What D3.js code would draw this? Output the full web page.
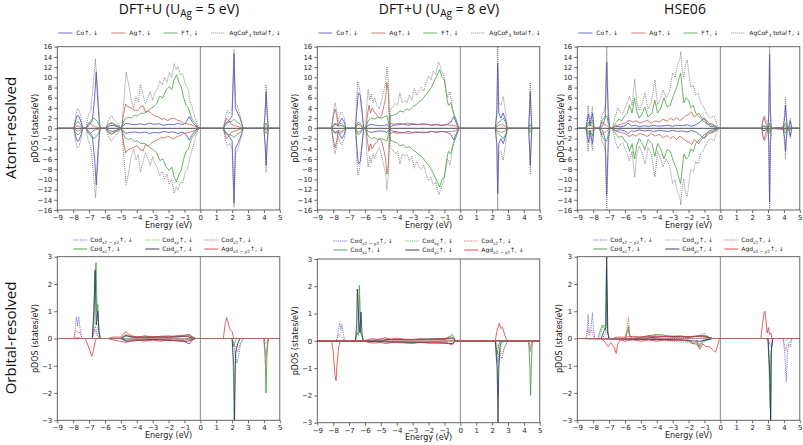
<!DOCTYPE html>
<html><head><meta charset="utf-8">
<script src="https://cdn.jsdelivr.net/npm/d3@7"></script>
<style>body{margin:0;background:#fff}svg{display:block}</style>
</head><body>
<svg id="c" width="803" height="445"></svg>
<script>
// ---------- DATA ----------
const energyTicks = [-9,-8,-7,-6,-5,-4,-3,-2,-1,0,1,2,3,4,5];
const atomTicks = [-16,-14,-12,-10,-8,-6,-4,-2,0,2,4,6,8,10,12,14,16];
const orbTicks = [-3,-2,-1,0,1,2,3];
const titles = ["DFT+U (U|Ag| = 5 eV)", "DFT+U (U|Ag| = 8 eV)", "HSE06"];
const rowLabels = ["Atom-resolved", "Orbital-resolved"];
const atomSeries = ["Co", "Ag", "F", "total"];

// Atom-resolved, DFT+U U=5 (spin-up; spin-down mirrors)
const co5 = [[-9,0],[-7.95,0],[-7.85,1.5],[-7.75,2.5],[-7.65,2.4],[-7.5,1.2],[-7.4,0],[-7.2,0],[-7.0,0.6],[-6.8,1.5],[-6.65,6],[-6.55,11.1],[-6.45,5],[-6.35,1],[-6.3,0],[-5.95,0],[-5.7,0.5],[-5.5,0.6],[-5.2,0.3],[-5.0,0],[-4.9,0.3],[-4.7,1.0],[-4.4,0.8],[-4.1,0.7],[-3.8,0.9],[-3.5,0.7],[-3.2,1.0],[-2.9,0.8],[-2.6,0.9],[-2.3,0.6],[-2.0,0.8],[-1.7,0.7],[-1.4,1.0],[-1.1,0.7],[-0.9,1.2],[-0.7,2.3],[-0.5,1.2],[-0.3,0.5],[-0.1,0],[1.45,0],[1.6,1.0],[1.8,1.5],[2.0,2.5],[2.12,14.6],[2.2,4],[2.35,3],[2.5,2],[2.7,0],[4.0,0],[4.08,3],[4.14,7.2],[4.2,3],[4.28,0],[5,0]];
const ag5 = [[-9,0],[-7.95,0],[-7.8,0.4],[-7.7,0.5],[-7.55,0.3],[-7.4,0],[-7.2,0],[-7.05,0.8],[-6.9,1.0],[-6.75,0.5],[-6.6,0.3],[-6.45,0.2],[-6.3,0],[-5.95,0],[-5.75,0.8],[-5.55,1.0],[-5.3,0.5],[-5.05,0],[-4.95,0],[-4.85,2.5],[-4.7,4.8],[-4.55,4.2],[-4.35,4.0],[-4.15,3.6],[-3.95,3.4],[-3.75,4.3],[-3.6,4.4],[-3.45,3.2],[-3.25,3.4],[-3.05,2.8],[-2.85,2.4],[-2.65,2.2],[-2.45,1.8],[-2.25,1.9],[-2.05,1.5],[-1.85,1.9],[-1.65,2.0],[-1.45,1.6],[-1.25,1.4],[-1.05,1.0],[-0.85,0.9],[-0.6,0.7],[-0.35,0.4],[-0.1,0],[1.45,0],[1.55,1.2],[1.65,2.0],[1.8,1.5],[1.95,0.8],[2.12,0.6],[2.3,0.4],[2.5,0.2],[2.7,0],[4.0,0],[4.14,0.3],[4.28,0],[5,0]];
const f5 = [[-9,0],[-7.95,0],[-7.85,0.8],[-7.7,1.3],[-7.55,0.8],[-7.4,0],[-7.2,0],[-7.05,1.0],[-6.9,1.5],[-6.75,2.0],[-6.6,1.8],[-6.45,1.2],[-6.3,0],[-5.95,0],[-5.8,0.8],[-5.6,1.2],[-5.4,0.8],[-5.1,0.4],[-5.0,0],[-4.92,0.4],[-4.75,1.8],[-4.55,2.2],[-4.35,2.0],[-4.15,2.6],[-3.95,2.4],[-3.75,3.0],[-3.55,2.9],[-3.35,3.3],[-3.15,3.8],[-2.95,4.2],[-2.75,4.8],[-2.55,6.3],[-2.35,6.0],[-2.15,7.6],[-1.95,8.2],[-1.8,7.6],[-1.65,9.5],[-1.5,10.5],[-1.35,9.0],[-1.2,8.2],[-1.05,6.0],[-0.9,4.5],[-0.75,4.0],[-0.55,2.0],[-0.3,0.9],[-0.1,0],[1.45,0],[1.6,0.8],[1.8,1.2],[2.0,1.4],[2.12,1.8],[2.3,1.2],[2.5,0.8],[2.7,0],[4.0,0],[4.08,0.6],[4.14,1.0],[4.2,0.6],[4.28,0],[5,0]];
const tot5 = [[-9,0],[-7.95,0],[-7.85,2.5],[-7.75,3.8],[-7.65,3.7],[-7.5,2.0],[-7.4,0],[-7.2,0],[-7.05,2.5],[-6.9,3.5],[-6.75,8],[-6.6,13.6],[-6.45,7],[-6.35,2],[-6.3,0],[-5.95,0],[-5.8,1.5],[-5.6,2.5],[-5.45,1.8],[-5.2,1.0],[-5.0,0],[-4.92,0.8],[-4.8,6],[-4.67,11.0],[-4.5,8.5],[-4.35,5.5],[-4.2,4.0],[-4.05,6.2],[-3.9,5.2],[-3.77,8.6],[-3.6,6.5],[-3.45,4.8],[-3.3,6.0],[-3.15,7.2],[-3.0,5.5],[-2.85,7.0],[-2.7,7.8],[-2.55,9.3],[-2.4,8.5],[-2.25,10.0],[-2.1,9.0],[-1.95,11.0],[-1.8,10.0],[-1.65,12.7],[-1.5,11.5],[-1.4,12.1],[-1.25,10.5],[-1.1,10.7],[-0.95,8.5],[-0.8,8.0],[-0.65,5.5],[-0.5,4.0],[-0.3,1.8],[-0.1,0],[1.45,0],[1.6,2.5],[1.7,3.5],[1.85,3.0],[2.0,4.0],[2.12,15.5],[2.22,5],[2.32,4.5],[2.5,2.5],[2.7,0],[4.0,0],[4.08,4],[4.14,8.6],[4.2,4],[4.28,0],[5,0]];

// Atom-resolved, DFT+U U=8
const co8 = [[-9,0],[-8.1,0],[-7.9,0.8],[-7.7,0.5],[-7.6,1.2],[-7.45,2.0],[-7.3,1.2],[-7.2,0],[-6.6,0],[-6.5,4],[-6.42,7.0],[-6.3,6.5],[-6.15,2],[-6.08,0],[-5.95,0],[-5.8,0.6],[-5.6,0.8],[-5.3,0.6],[-5.0,0.5],[-4.75,0.6],[-4.62,0.8],[-4.5,0.3],[-4.45,0],[-4.4,0.3],[-4.2,0.6],[-3.9,0.7],[-3.6,0.9],[-3.3,0.6],[-3.0,0.8],[-2.7,0.7],[-2.4,0.9],[-2.1,0.8],[-1.8,0.6],[-1.5,0.8],[-1.2,0.6],[-0.9,0.7],[-0.6,1.2],[-0.42,2.3],[-0.25,1.0],[-0.1,0],[2.2,0],[2.3,3],[2.35,12.8],[2.42,3],[2.55,2],[2.7,3.0],[2.85,1.5],[2.95,0],[4.3,0],[4.35,3],[4.4,7.2],[4.45,3],[4.5,0],[5,0]];
const ag8 = [[-9,0],[-8.1,0],[-7.98,2.5],[-7.88,3.8],[-7.78,2.5],[-7.68,0.4],[-7.5,0.6],[-7.3,0.3],[-7.2,0],[-6.6,0],[-6.45,0.8],[-6.3,0.6],[-6.1,0],[-5.95,0],[-5.85,2.5],[-5.75,4.5],[-5.65,3.0],[-5.55,4.0],[-5.4,3.2],[-5.25,2.6],[-5.1,2.0],[-4.95,2.5],[-4.8,4.5],[-4.7,6],[-4.62,9.0],[-4.52,7.0],[-4.45,0],[-4.4,1.0],[-4.2,0.8],[-3.9,1.0],[-3.6,0.8],[-3.3,1.0],[-3.0,0.9],[-2.7,0.8],[-2.4,0.7],[-2.1,0.8],[-1.8,0.6],[-1.5,0.7],[-1.2,0.6],[-0.9,0.7],[-0.6,0.6],[-0.3,0.5],[-0.1,0],[2.2,0],[2.35,0.5],[2.6,0.8],[2.8,0.5],[2.95,0],[5,0]];
const f8 = [[-9,0],[-8.1,0],[-7.9,1.0],[-7.7,0.8],[-7.5,1.0],[-7.2,0],[-6.6,0],[-6.45,1.2],[-6.3,1.0],[-6.1,0],[-5.95,0],[-5.8,1.5],[-5.6,2.0],[-5.4,1.8],[-5.2,2.2],[-5.0,2.0],[-4.8,2.2],[-4.62,2.5],[-4.45,0],[-4.4,2.4],[-4.2,2.6],[-4.0,2.8],[-3.8,3.4],[-3.6,3.2],[-3.4,3.8],[-3.2,3.6],[-3.0,4.2],[-2.8,4.6],[-2.6,5.2],[-2.4,5.6],[-2.2,6.5],[-2.0,7.2],[-1.8,8.2],[-1.6,9.5],[-1.45,10.5],[-1.3,11.5],[-1.15,10.0],[-1.0,9.5],[-0.85,6.0],[-0.75,4.5],[-0.6,5.0],[-0.45,3.0],[-0.25,1.5],[-0.1,0],[2.2,0],[2.35,1.0],[2.55,1.5],[2.7,2.0],[2.85,1.2],[2.95,0],[4.3,0],[4.4,0.8],[4.5,0],[5,0]];
const tot8 = [[-9,0],[-8.1,0],[-7.98,3.5],[-7.88,5.0],[-7.78,3.5],[-7.68,1.5],[-7.55,3.0],[-7.45,3.2],[-7.3,2.0],[-7.2,0],[-6.6,0],[-6.52,6],[-6.45,9.2],[-6.35,8],[-6.2,4],[-6.08,0],[-5.95,0],[-5.88,5],[-5.8,7.6],[-5.7,5.5],[-5.6,6.8],[-5.5,5.0],[-5.4,6.0],[-5.25,4.5],[-5.1,3.8],[-4.95,5.5],[-4.8,7.5],[-4.7,9],[-4.62,12.1],[-4.52,9],[-4.45,0],[-4.4,3.8],[-4.25,4.2],[-4.1,5.0],[-3.95,4.5],[-3.8,7.0],[-3.65,5.0],[-3.5,5.5],[-3.35,5.0],[-3.2,6.5],[-3.05,5.5],[-2.9,7.8],[-2.75,6.5],[-2.6,7.5],[-2.45,8.0],[-2.3,7.2],[-2.15,9.0],[-2.0,10.2],[-1.85,9.5],[-1.7,11.2],[-1.55,10.5],[-1.45,12.0],[-1.35,13.0],[-1.2,11.5],[-1.05,10.5],[-0.9,7.5],[-0.8,6.0],[-0.65,7.2],[-0.5,4.0],[-0.3,2.0],[-0.1,0],[2.2,0],[2.3,4],[2.35,16],[2.42,5],[2.55,4.5],[2.7,6.2],[2.85,3],[2.95,0],[4.3,0],[4.35,4],[4.4,9.0],[4.45,4],[4.5,0],[5,0]];

// Atom-resolved, HSE06
const coH = [[-9,0],[-8.45,0],[-8.3,2.8],[-8.2,0.5],[-8.05,3.0],[-7.95,0],[-7.6,0],[-7.4,0.5],[-7.25,2],[-7.15,13],[-7.05,2],[-6.95,0],[-6.8,0],[-6.6,0.4],[-6.3,0.3],[-6.0,0.5],[-5.8,1.0],[-5.6,0.5],[-5.35,0.6],[-5.1,0.3],[-4.8,0.5],[-4.5,0.4],[-4.2,0.6],[-3.9,0.4],[-3.6,0.5],[-3.3,0.6],[-3.0,0.4],[-2.7,0.6],[-2.4,0.5],[-2.1,0.7],[-1.8,0.4],[-1.5,0.8],[-1.3,1.2],[-1.1,1.8],[-1.0,2.0],[-0.85,1.0],[-0.65,0.4],[-0.4,0.3],[-0.1,0],[2.6,0],[2.7,0.5],[2.9,0.3],[3.0,0],[3.05,3],[3.1,14.5],[3.15,3],[3.2,0],[3.95,0],[4.05,2],[4.1,4.5],[4.15,2],[4.22,0],[4.3,0],[4.4,1.5],[4.5,0],[5,0]];
const agH = [[-9,0],[-8.45,0],[-8.3,0.6],[-8.05,0.5],[-7.95,0],[-7.6,0],[-7.45,1.2],[-7.3,0.8],[-7.15,0.6],[-6.95,0],[-6.8,0],[-6.6,0.5],[-6.3,0.8],[-6.0,1.0],[-5.75,1.6],[-5.5,1.2],[-5.3,1.5],[-5.05,1.0],[-4.8,1.3],[-4.6,1.6],[-4.35,1.0],[-4.1,1.5],[-3.85,1.2],[-3.6,1.8],[-3.35,1.4],[-3.15,2.0],[-2.95,1.6],[-2.75,2.2],[-2.55,1.5],[-2.35,2.0],[-2.15,2.5],[-1.95,2.8],[-1.8,3.2],[-1.65,2.2],[-1.5,2.6],[-1.35,3.0],[-1.2,2.2],[-1.05,1.8],[-0.9,1.6],[-0.7,1.0],[-0.45,0.8],[-0.25,0.4],[-0.1,0],[2.6,0],[2.68,1.5],[2.75,2.2],[2.85,1.0],[3.0,0],[3.1,0.4],[3.2,0],[4.1,0.3],[4.22,0],[5,0]];
const fH = [[-9,0],[-8.45,0],[-8.3,1.2],[-8.2,0.4],[-8.05,1.5],[-7.95,0],[-7.6,0],[-7.45,1.5],[-7.3,2.2],[-7.15,2.5],[-7.05,1.0],[-6.95,0],[-6.8,0],[-6.6,1.0],[-6.4,1.8],[-6.2,1.5],[-6.0,2.5],[-5.85,3.0],[-5.72,4.5],[-5.55,3.0],[-5.4,6.0],[-5.25,3.2],[-5.1,2.0],[-4.9,3.0],[-4.75,4.2],[-4.55,2.2],[-4.3,3.0],[-4.12,5.5],[-3.95,3.0],[-3.75,4.0],[-3.55,6.0],[-3.35,4.2],[-3.15,4.5],[-2.95,6.5],[-2.75,8.0],[-2.6,9.8],[-2.5,10.8],[-2.4,8.0],[-2.3,5.0],[-2.15,6.0],[-2.0,5.5],[-1.85,4.0],[-1.7,4.5],[-1.55,3.0],[-1.4,2.5],[-1.25,2.0],[-1.1,1.5],[-0.9,1.0],[-0.7,0.8],[-0.45,0.6],[-0.25,0.3],[-0.1,0],[2.6,0],[2.75,0.5],[3.0,0],[3.1,1.0],[3.2,0],[3.95,0],[4.1,1.0],[4.22,0],[4.4,0.3],[4.5,0],[5,0]];
const totH = [[-9,0],[-8.45,0],[-8.32,4.5],[-8.2,1.0],[-8.05,4.3],[-7.95,0],[-7.6,0],[-7.45,2.5],[-7.3,3.5],[-7.22,5],[-7.15,16.5],[-7.05,4],[-6.95,0],[-6.8,0],[-6.6,2.5],[-6.45,4.0],[-6.3,3.2],[-6.15,2.8],[-6.0,4.0],[-5.85,5.0],[-5.72,6.3],[-5.55,4.5],[-5.39,9.6],[-5.25,5.0],[-5.1,3.5],[-4.9,5.0],[-4.74,7.0],[-4.55,3.8],[-4.35,5.0],[-4.11,9.5],[-3.95,4.5],[-3.75,6.0],[-3.6,7.5],[-3.4,6.0],[-3.2,7.2],[-3.0,10.8],[-2.85,10.0],[-2.7,12.5],[-2.55,13.5],[-2.49,15.0],[-2.4,11.5],[-2.3,10.0],[-2.2,12.5],[-2.08,13.4],[-1.95,10.0],[-1.85,8.0],[-1.7,8.5],[-1.55,6.5],[-1.4,7.0],[-1.25,5.0],[-1.1,4.5],[-0.95,3.5],[-0.8,2.5],[-0.6,2.0],[-0.4,2.5],[-0.25,1.0],[-0.1,0],[2.6,0],[2.7,2.0],[2.78,2.5],[2.9,1.5],[3.0,0],[3.05,4],[3.1,16.5],[3.15,4],[3.2,0],[3.95,0],[4.05,3],[4.1,6.0],[4.15,3],[4.22,0],[4.3,0],[4.4,2.0],[4.5,0],[5,0]];

// Orbital-resolved, DFT+U U=5 (up >0, down <0)
const L_x2y2_up = [[-9,0],[-7.95,0],[-7.88,0.3],[-7.8,0.8],[-7.72,0.45],[-7.65,0.8],[-7.55,0.3],[-7.45,0],[-6.8,0],[-6.7,0.2],[-6.6,0.45],[-6.5,0.2],[-6.4,0],[-5.0,0],[-4.8,0.08],[-4.6,0.1],[-4.3,0.05],[-3.5,0.04],[-2.5,0.05],[-1.5,0.08],[-1.0,0.1],[-0.7,0.15],[-0.5,0.05],[-0.3,0],[5,0]];
const L_x2y2_dn = [[-9,0],[-5,0],[-4.7,-0.12],[-4.4,-0.05],[-3,-0.03],[-1,-0.1],[-0.7,-0.2],[-0.5,-0.05],[-0.3,0],[2.0,0],[2.1,-0.2],[2.2,-0.6],[2.3,-0.9],[2.4,-0.7],[2.5,-0.3],[2.6,-0.1],[2.7,0],[4.0,0],[4.08,-0.5],[4.14,-0.6],[4.2,-0.3],[4.28,0],[5,0]];
const L_xz_up = [[-9,0],[-7.95,0],[-7.8,0.03],[-7.45,0],[-6.8,0],[-6.7,0.5],[-6.62,2.4],[-6.56,2.78],[-6.5,1.0],[-6.45,1.25],[-6.38,0.2],[-6.3,0],[-5.0,0],[-4.7,0.12],[-4.4,0.06],[-3.5,0.03],[-2.5,0.08],[-2.0,0.1],[-1.5,0.06],[-0.7,0.1],[-0.3,0],[5,0]];
const L_xz_dn = [[-9,0],[-5,0],[-4.7,-0.05],[-3,-0.03],[-1,-0.05],[-0.3,0],[2.0,0],[2.1,-0.3],[2.2,-0.1],[2.3,0],[4.0,0],[4.08,-0.6],[4.13,-2.0],[4.2,-0.5],[4.28,0],[5,0]];
const L_xy_up = [[-9,0],[-6.8,0],[-6.7,0.8],[-6.6,2.6],[-6.5,0.6],[-6.4,0.2],[-6.3,0],[-5,0],[-4.7,0.15],[-4.3,0.05],[-2,0.05],[-0.6,0.1],[-0.3,0],[5,0]];
const L_xy_dn = [[-9,0],[2.0,0],[2.08,-1.5],[2.12,-3.0],[2.18,-1.0],[2.3,-0.2],[2.5,0],[4.0,0],[4.12,-0.2],[4.28,0],[5,0]];
const L_yz_up = [[-9,0],[-6.8,0],[-6.7,1.0],[-6.62,2.5],[-6.55,0.5],[-6.45,1.0],[-6.38,0.3],[-6.3,0],[-5,0],[-4.7,0.1],[-4.2,0.05],[-3,0.06],[-2,0.04],[-1.0,0.08],[-0.3,0],[5,0]];
const L_yz_dn = [[-9,0],[-5,0],[-4.6,-0.1],[-3,-0.04],[-0.8,-0.1],[-0.3,0],[2.0,0],[2.1,-1.0],[2.15,-3.0],[2.22,-0.5],[2.35,-0.2],[2.5,0],[5,0]];
const L_z2_up = [[-9,0],[-7.95,0],[-7.8,0.3],[-7.7,0.2],[-7.6,0.25],[-7.45,0],[-6.8,0],[-6.65,0.35],[-6.5,0.1],[-6.3,0],[-5,0],[-4.7,0.15],[-4.2,0.05],[-2,0.04],[-0.7,0.08],[-0.3,0],[5,0]];
const L_z2_dn = [[-9,0],[2.0,0],[2.2,-0.3],[2.35,-0.5],[2.5,-0.2],[2.7,0],[4.0,0],[4.1,-1.0],[4.2,-0.4],[4.28,0],[5,0]];
const L_ag_up = [[-9,0],[-5.8,0],[-5.5,0.05],[-5.0,0.05],[-4.8,0.2],[-4.65,0.24],[-4.5,0.15],[-4.2,0.08],[-3.9,0.05],[-3.5,0.1],[-3.0,0.05],[-2.5,0.08],[-2.0,0.06],[-1.5,0.1],[-1.0,0.12],[-0.7,0.15],[-0.5,0.05],[-0.3,0],[1.45,0],[1.55,0.5],[1.65,0.77],[1.75,0.6],[1.85,0.35],[2.0,0.25],[2.1,0],[5,0]];
const L_ag_dn = [[-9,0],[-7.25,0],[-7.1,-0.2],[-6.95,-0.45],[-6.83,-0.65],[-6.75,-0.5],[-6.65,-0.2],[-6.55,0],[-5.8,0],[-5.5,-0.05],[-5.0,-0.1],[-4.7,-0.15],[-4.4,-0.1],[-4.0,-0.05],[-3.5,-0.1],[-3.0,-0.06],[-2.5,-0.1],[-2.0,-0.05],[-1.5,-0.08],[-1.0,-0.1],[-0.7,-0.2],[-0.5,-0.05],[-0.3,0],[5,0]];

// Orbital-resolved, DFT+U U=8
const M_x2y2_up = [[-9,0],[-7.8,0],[-7.7,0.3],[-7.6,0.65],[-7.5,0.4],[-7.45,0.6],[-7.35,0.2],[-7.25,0],[-5.5,0],[-5,0.05],[-4.5,0.06],[-4,0.05],[-3,0.05],[-2,0.06],[-1,0.05],[-0.5,0.1],[-0.3,0],[5,0]];
const M_x2y2_dn = [[-9,0],[-5,0],[-4.5,-0.05],[-3,-0.06],[-1,-0.05],[-0.5,-0.1],[-0.3,0],[2.2,0],[2.3,-0.4],[2.35,-0.8],[2.45,-0.4],[2.55,-0.55],[2.62,-0.65],[2.75,-0.3],[2.9,-0.1],[2.95,0],[4.3,0],[4.4,-0.4],[4.5,0],[5,0]];
const M_xz_up = [[-9,0],[-6.6,0],[-6.5,0.3],[-6.42,0.2],[-6.35,2.04],[-6.28,0.3],[-6.2,0.2],[-6.1,0],[-5,0],[-4.5,0.05],[-3,0.04],[-2,0.06],[-1,0.05],[-0.5,0.2],[-0.3,0],[5,0]];
const M_xz_dn = [[-9,0],[-3,-0.04],[-0.3,0],[2.2,0],[2.32,-0.5],[2.4,-0.2],[2.5,0],[4.3,0],[4.38,-1.0],[4.42,-2.0],[4.5,-0.3],[4.55,0],[5,0]];
const M_xy_up = [[-9,0],[-6.6,0],[-6.45,0.4],[-6.35,2.0],[-6.28,0.4],[-6.15,0.1],[-6.05,0],[-5,0],[-4.2,0.05],[-3,0.04],[-1,0.06],[-0.5,0.25],[-0.3,0],[5,0]];
const M_xy_dn = [[-9,0],[-3,-0.03],[-0.3,0],[2.2,0],[2.3,-1.0],[2.35,-2.0],[2.42,-0.5],[2.55,-0.3],[2.7,0],[5,0]];
const M_yz_up = [[-9,0],[-6.6,0],[-6.52,0.6],[-6.48,1.9],[-6.4,0.8],[-6.32,0.3],[-6.25,1.06],[-6.18,0.2],[-6.1,0],[-5,0],[-4.5,0.05],[-3,0.04],[-0.5,0.1],[-0.3,0],[5,0]];
const M_yz_dn = [[-9,0],[-3,-0.05],[-0.5,-0.1],[-0.3,0],[2.2,0],[2.32,-1.0],[2.37,-3.0],[2.42,-1.0],[2.5,-0.2],[2.6,0],[5,0]];
const M_z2_up = [[-9,0],[-7.8,0],[-7.65,0.25],[-7.5,0.2],[-7.3,0],[-5.8,0],[-5.5,0.05],[-4.5,0.08],[-4,0.05],[-3,0.04],[-1,0.05],[-0.3,0],[5,0]];
const M_z2_dn = [[-9,0],[2.2,0],[2.45,-0.3],[2.6,-0.5],[2.8,-0.2],[2.95,0],[4.3,0],[4.4,-0.3],[4.5,0],[5,0]];
const M_ag_up = [[-9,0],[-6.1,0],[-5.8,0.05],[-5.5,0.08],[-5.2,0.05],[-4.7,0.12],[-4.4,0.05],[-4.0,0.1],[-3.5,0.06],[-3.0,0.05],[-2.5,0.08],[-2.0,0.05],[-1.5,0.06],[-1.0,0.08],[-0.5,0.1],[-0.3,0],[2.2,0],[2.3,0.35],[2.45,0.65],[2.55,0.45],[2.65,0.5],[2.8,0.2],[2.95,0],[5,0]];
const M_ag_dn = [[-9,0],[-8.1,0],[-8.0,-0.4],[-7.9,-1.2],[-7.82,-1.46],[-7.75,-0.8],[-7.65,-0.2],[-7.55,0],[-6.1,0],[-5.8,-0.05],[-5.5,-0.08],[-5.0,-0.06],[-4.7,-0.1],[-4.2,-0.05],[-3.5,-0.08],[-3.0,-0.1],[-2.5,-0.05],[-2.0,-0.08],[-1.0,-0.05],[-0.5,-0.15],[-0.3,0],[5,0]];

// Orbital-resolved, HSE06
const R_x2y2_up = [[-9,0],[-8.45,0],[-8.38,0.3],[-8.32,0.89],[-8.25,0.2],[-8.15,0.3],[-8.05,0.95],[-7.98,0.3],[-7.9,0],[-7.5,0],[-7.3,0.1],[-7.15,0.3],[-7.0,0],[-6,0],[-5.8,0.3],[-5.7,0.05],[-5,0.05],[-4,0.08],[-3,0.05],[-2,0.06],[-1.4,0.1],[-1.2,0.15],[-1.0,0.2],[-0.8,0.05],[-0.5,0],[5,0]];
const R_x2y2_dn = [[-9,0],[-1.5,0],[-1.35,-0.3],[-1.25,-0.1],[-1.0,-0.05],[-0.5,0],[2.9,0],[3.1,-0.2],[3.22,-0.35],[3.3,0],[3.95,0],[4.05,-0.5],[4.15,-1.59],[4.22,-0.5],[4.3,-0.2],[4.4,-0.3],[4.5,0],[5,0]];
const R_xz_up = [[-9,0],[-7.7,0],[-7.55,0.3],[-7.42,0.49],[-7.32,0.4],[-7.22,0.3],[-7.17,2.5],[-7.1,0.3],[-7.0,0],[-6,0],[-5.85,0.3],[-5.78,0.45],[-5.7,0.1],[-5.5,0],[-5,0.05],[-4,0.15],[-3,0.08],[-2.5,0.1],[-2,0.05],[-1.2,0.1],[-0.8,0.05],[-0.5,0],[5,0]];
const R_xz_dn = [[-9,0],[-4,-0.05],[-2,-0.05],[-1.3,-0.3],[-1.1,-0.1],[-0.5,0],[3.0,0],[3.1,-1.0],[3.17,-3.0],[3.22,-0.3],[3.3,0],[5,0]];
const R_xy_up = [[-9,0],[-7.6,0],[-7.45,0.35],[-7.3,0.5],[-7.2,0.4],[-7.16,2.6],[-7.1,0.3],[-7.0,0],[-6,0],[-5.8,0.4],[-5.7,0.1],[-5.5,0],[-4.5,0.05],[-3.8,0.15],[-3,0.05],[-2,0.08],[-1,0.1],[-0.5,0],[5,0]];
const R_xy_dn = [[-9,0],[-4,-0.04],[-1.3,-0.2],[-0.5,0],[3.0,0],[3.12,-2.5],[3.18,-0.5],[3.3,0],[3.95,0],[4.1,-0.1],[4.3,0],[5,0]];
const R_yz_up = [[-9,0],[-7.5,0],[-7.3,0.3],[-7.2,0.4],[-7.15,3.0],[-7.08,0.2],[-7.0,0],[-5,0],[-4,0.05],[-3,0.08],[-2,0.05],[-1,0.1],[-0.5,0],[5,0]];
const R_yz_dn = [[-9,0],[-3,-0.04],[-1.3,-0.1],[-0.5,0],[3.0,0],[3.12,-1.5],[3.16,-3.0],[3.2,-0.5],[3.3,0],[5,0]];
const R_z2_up = [[-9,0],[-8.45,0],[-8.35,0.35],[-8.25,0.1],[-8.1,0.3],[-7.95,0],[-6.0,0],[-5.88,0.3],[-5.79,0.8],[-5.7,0.2],[-5.55,0],[-5,0.05],[-4,0.1],[-3,0.05],[-1,0.1],[-0.5,0],[5,0]];
const R_z2_dn = [[-9,0],[2.9,0],[3.1,-0.15],[3.3,0],[3.95,0],[4.05,-0.3],[4.12,-0.45],[4.2,-0.2],[4.35,-0.15],[4.5,0],[5,0]];
const R_ag_up = [[-9,0],[-6.8,0],[-6.5,0.05],[-6,0.05],[-5.5,0.08],[-5,0.05],[-4.5,0.1],[-4,0.06],[-3.5,0.08],[-3,0.05],[-2.5,0.06],[-2,0.05],[-1.5,0.08],[-1,0.05],[-0.5,0],[2.55,0],[2.65,0.5],[2.75,0.95],[2.81,1.0],[2.88,0.6],[2.95,0.2],[3.02,0.4],[3.1,0.15],[3.18,0.2],[3.25,0],[5,0]];
const R_ag_dn = [[-9,0],[-7.5,0],[-7.3,-0.1],[-7.05,-0.3],[-6.9,-0.15],[-6.7,-0.3],[-6.55,-0.55],[-6.45,-0.2],[-6.3,-0.05],[-6.0,-0.1],[-5.5,-0.05],[-5.0,-0.1],[-4.5,-0.05],[-4.0,-0.1],[-3.5,-0.05],[-3.0,-0.08],[-2.5,-0.05],[-2.0,-0.1],[-1.7,-0.2],[-1.5,-0.1],[-1.3,-0.4],[-1.1,-0.2],[-0.9,-0.3],[-0.7,-0.3],[-0.5,-0.4],[-0.3,-0.5],[-0.15,-0.2],[-0.05,0],[5,0]];

// ---------- STYLE / LAYOUT ----------
const atomStyle = {
  Co:{color:"#4646c8", dash:null, label:[["Co↑, ↓"]]},
  Ag:{color:"#c45a5a", dash:null, label:[["Ag↑, ↓"]]},
  F:{color:"#44a044", dash:null, label:[["F↑, ↓"]]},
  total:{color:"#6a6a6a", dash:"1,1", label:[["AgCoF"],["3","sub"],[" total↑, ↓"]]}
};
const orbStyle = {
  x2y2:{color:"#5555d5", dash:"1.2,1", label:[["Co"],["d"],["x2 − y2","sub"],["↑, ↓"]]},
  xz:{color:"#3c9f3c", dash:null, label:[["Co"],["d"],["xz","sub"],["↑, ↓"]]},
  xy:{color:"#4cc04c", dash:"1.2,1", label:[["Co"],["d"],["xy","sub"],["↑, ↓"]]},
  yz:{color:"#2b2b5e", dash:null, label:[["Co"],["d"],["yz","sub"],["↑, ↓"]]},
  z2:{color:"#e05a5a", dash:"1.2,1", label:[["Co"],["d"],["z2","sub"],["↑, ↓"]]},
  ag:{color:"#e03a3a", dash:null, label:[["Ag"],["d"],["x2 − y2","sub"],["↑, ↓"]]}
};

const topPanels = [
  {x0:57.3, x1:279.8, y0:46.7, y1:210, ylab:35, series:{Co:co5, Ag:ag5, F:f5, total:tot5}},
  {x0:317.3, x1:539.8, y0:46.7, y1:210, ylab:295, series:{Co:co8, Ag:ag8, F:f8, total:tot8}},
  {x0:577.3, x1:799.8, y0:46.7, y1:210, ylab:561, series:{Co:coH, Ag:agH, F:fH, total:totH}}
];
const botPanels = [
  {x0:57.3, x1:279.8, y0:256.7, y1:420.3, ylab:35, series:{
    x2y2:[L_x2y2_up,L_x2y2_dn], xz:[L_xz_up,L_xz_dn], xy:[L_xy_up,L_xy_dn], yz:[L_yz_up,L_yz_dn], z2:[L_z2_up,L_z2_dn], ag:[L_ag_up,L_ag_dn]}},
  {x0:317.3, x1:539.8, y0:259, y1:422.7, ylab:295, series:{
    x2y2:[M_x2y2_up,M_x2y2_dn], xz:[M_xz_up,M_xz_dn], xy:[M_xy_up,M_xy_dn], yz:[M_yz_up,M_yz_dn], z2:[M_z2_up,M_z2_dn], ag:[M_ag_up,M_ag_dn]}},
  {x0:577.3, x1:799.8, y0:256.7, y1:420.3, ylab:559, series:{
    x2y2:[R_x2y2_up,R_x2y2_dn], xz:[R_xz_up,R_xz_dn], xy:[R_xy_up,R_xy_dn], yz:[R_yz_up,R_yz_dn], z2:[R_z2_up,R_z2_dn], ag:[R_ag_up,R_ag_dn]}}
];

const svg = d3.select("#c");
const tickFont = "DejaVu Sans, sans-serif";
const fmt = d => d < 0 ? "\u2212" + Math.abs(d) : String(d);

function richText(sel, parts, size) {
  let inSub = false;
  parts.forEach(p => {
    const t = sel.append("tspan").text(p[0]);
    if (p[1] === "sub") { t.attr("font-size", size*0.72).attr("dy", size*0.25); inSub = true; }
    else if (inSub) { t.attr("dy", -size*0.25); inSub = false; }
  });
}

let clipId = 0;
function drawPanel(p, domainY, ticksY, isTop) {
  const x = d3.scaleLinear().domain([-9,5]).range([p.x0,p.x1]);
  const y = d3.scaleLinear().domain(domainY).range([p.y1,p.y0]);
  const g = svg.append("g");
  const id = "clip" + (clipId++);
  svg.append("clipPath").attr("id", id).append("rect")
    .attr("x", p.x0).attr("y", p.y0).attr("width", p.x1-p.x0).attr("height", p.y1-p.y0);
  const plot = g.append("g").attr("clip-path", `url(#${id})`);
  plot.append("line").attr("x1",x(0)).attr("x2",x(0)).attr("y1",p.y0).attr("y2",p.y1)
    .attr("stroke","#888").attr("stroke-width",1);
  const line = d3.line().x(d => x(d[0])).y(d => y(d[1]));
  if (isTop) {
    atomSeries.forEach(k => {
      const st = atomStyle[k];
      const data = p.series[k];
      [data, data.map(d => [d[0], -d[1]])].forEach(arr => {
        plot.append("path").attr("d", line(arr)).attr("fill","none")
          .attr("stroke", st.color).attr("stroke-width", 0.8)
          .attr("stroke-dasharray", st.dash);
      });
    });
    plot.append("line").attr("x1",p.x0).attr("x2",p.x1).attr("y1",y(0)).attr("y2",y(0))
      .attr("stroke","#6f6f6f").attr("stroke-width",1.4);
  } else {
    Object.keys(orbStyle).forEach(k => {
      const st = orbStyle[k];
      p.series[k].forEach(arr => {
        plot.append("path").attr("d", line(arr)).attr("fill","none")
          .attr("stroke", st.color).attr("stroke-width", 0.8)
          .attr("stroke-dasharray", st.dash);
      });
    });
    plot.append("line").attr("x1",p.x0).attr("x2",p.x1).attr("y1",y(0)).attr("y2",y(0))
      .attr("stroke","#888").attr("stroke-opacity",0.55).attr("stroke-width",1);
  }
  const ax = g.append("g").attr("transform",`translate(0,${p.y1})`)
    .call(d3.axisBottom(x).tickValues(energyTicks).tickFormat(fmt).tickSize(3).tickPadding(2));
  const ay = g.append("g").attr("transform",`translate(${p.x0},0)`)
    .call(d3.axisLeft(y).tickValues(ticksY).tickFormat(fmt).tickSize(3).tickPadding(2));
  [ax, ay].forEach(a => {
    a.select(".domain").remove();
    a.selectAll("line").attr("stroke","#444").attr("stroke-width",0.8);
    a.selectAll("text").attr("font-family", tickFont).attr("font-size", 7).attr("fill","#222");
  });
  g.append("rect").attr("x",p.x0).attr("y",p.y0).attr("width",p.x1-p.x0).attr("height",p.y1-p.y0)
    .attr("fill","none").attr("stroke","#555").attr("stroke-width",0.9);
  g.append("text").attr("x",(p.x0+p.x1)/2).attr("y",p.y1+17.5).attr("text-anchor","middle")
    .attr("font-family",tickFont).attr("font-size",8).attr("fill","#222").text("Energy (eV)");
  g.append("text").attr("transform",`translate(${p.ylab},${(p.y0+p.y1)/2}) rotate(-90)`)
    .attr("text-anchor","middle").attr("dominant-baseline","middle")
    .attr("font-family",tickFont).attr("font-size",8).attr("fill","#222").text("pDOS (states/eV)");
}

topPanels.forEach(p => drawPanel(p, [-16,16], atomTicks, true));
botPanels.forEach(p => drawPanel(p, [-3,3], orbTicks, false));

// top legends
const topLegOff = [0, 53, 105, 153];
topPanels.forEach(p => {
  atomSeries.forEach((k,i) => {
    const st = atomStyle[k];
    const lx = p.x0 + 1 + topLegOff[i];
    svg.append("line").attr("x1",lx).attr("x2",lx+14).attr("y1",33).attr("y2",33)
      .attr("stroke",st.color).attr("stroke-width",0.8).attr("stroke-dasharray",st.dash);
    const t = svg.append("text").attr("x",lx+18).attr("y",35.2)
      .attr("font-family",tickFont).attr("font-size",6).attr("fill","#222");
    richText(t, st.label, 6);
  });
});
// bottom legends
const botLegKeys = [["x2y2",0,0],["xz",0,1],["xy",1,0],["yz",1,1],["z2",2,0],["ag",2,1]];
const botColOff = [17, 89, 148];
botPanels.forEach((p,pi) => {
  const dy = pi === 1 ? 1 : 0;
  botLegKeys.forEach(([k,c,r]) => {
    const st = orbStyle[k];
    const lx = p.x0 + botColOff[c] - 1;
    const ly = 240 + r*9 + dy;
    svg.append("line").attr("x1",lx).attr("x2",lx+14).attr("y1",ly).attr("y2",ly)
      .attr("stroke",st.color).attr("stroke-width",0.9).attr("stroke-dasharray",st.dash);
    const t = svg.append("text").attr("x",lx+17).attr("y",ly+2)
      .attr("font-family",tickFont).attr("font-size",6).attr("fill","#222");
    richText(t, st.label, 6);
  });
});

// titles
const titleX = [179, 439, 685];
titles.forEach((s,i) => {
  const t = svg.append("text").attr("x",titleX[i]).attr("y",14).attr("text-anchor","middle")
    .attr("font-family","Open Sans, sans-serif").attr("font-size",14).attr("fill","#111");
  const parts = s.split("|");
  if (parts.length === 1) t.text(s);
  else {
    t.append("tspan").text(parts[0]);
    t.append("tspan").text(parts[1]).attr("font-size",10).attr("dy",3);
    t.append("tspan").text(parts[2]).attr("dy",-3);
  }
});
// row labels
[[12,128],[12,338]].forEach((pos,i) => {
  svg.append("text").attr("transform",`translate(${pos[0]},${pos[1]}) rotate(-90)`)
    .attr("text-anchor","middle").attr("dominant-baseline","middle")
    .attr("font-family","Open Sans, sans-serif").attr("font-size",15).attr("fill","#111")
    .text(rowLabels[i]);
});
</script>
</body></html>
